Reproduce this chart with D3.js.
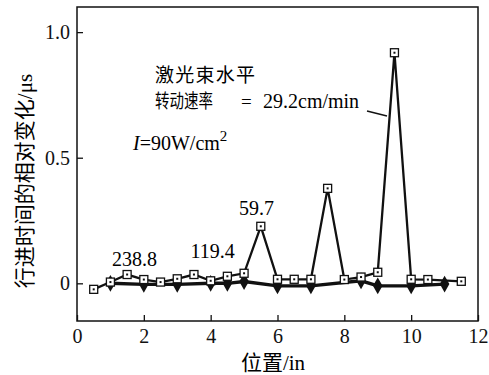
<!DOCTYPE html>
<html>
<head>
<meta charset="UTF-8">
<title>行进时间的相对变化</title>
<script src="https://d3js.org/d3.v7.min.js"></script>
<style>
  body { margin: 0; background: #fff; }
</style>
</head>
<body>
<svg id="chart" width="489" height="375"></svg>
<script>
// squares: open square markers with dot
var sqX = [0.5, 1, 1.5, 2, 2.5, 3, 3.5, 4, 4.5, 5, 5.5, 6, 6.5, 7, 7.5, 8, 8.5, 9, 9.5, 10, 10.5, 11.5];
var sqY = [-0.024, 0.005, 0.035, 0.015, 0.005, 0.018, 0.035, 0.01, 0.028, 0.04, 0.227, 0.016, 0.016, 0.016, 0.378, 0.015, 0.025, 0.044, 0.918, 0.016, 0.015, 0.008];
// diamonds: filled diamond markers
var diX = [1, 2, 3, 4, 4.5, 5, 6, 7, 8.5, 9, 10, 11];
var diY = [0, -0.004, -0.004, 0, 0, 0.007, -0.01, -0.01, 0.01, -0.01, -0.01, -0.003];
var xTicks = [0, 2, 4, 6, 8, 10, 12];
var yTicks = [0, 0.5, 1.0];
var yTickLabels = ["0", "0.5", "1.0"];
var speedLabels = ["238.8", "119.4", "59.7"];

var SERIF = "'Liberation Serif', serif";
var CJK = "'Noto Sans CJK SC', sans-serif";
var svg = d3.select("#chart");
var x = d3.scaleLinear().domain([0, 12]).range([77, 478]);
var y = d3.scaleLinear().domain([-0.15, 1.1]).range([321, 7]);

// frame
svg.append("rect")
    .attr("x", 77).attr("y", 7)
    .attr("width", 401).attr("height", 314)
    .attr("fill", "none").attr("stroke", "#111").attr("stroke-width", 1.5);

// axes, ticks pointing inward
var xAxis = svg.append("g")
    .attr("transform", "translate(0,321)")
    .call(d3.axisBottom(x).tickValues(xTicks).tickSize(-6).tickPadding(8).tickFormat(d3.format("d")));
var yAxis = svg.append("g")
    .attr("transform", "translate(77,0)")
    .call(d3.axisLeft(y).tickValues(yTicks).tickSize(-6).tickPadding(7)
        .tickFormat(function (d, i) { return yTickLabels[i]; }));
[xAxis, yAxis].forEach(function (a) {
    a.attr("font-family", null).attr("font-size", null);
    a.select(".domain").remove();
    a.selectAll(".tick line").attr("stroke", "#111").attr("stroke-width", 1.3);
    a.selectAll(".tick text").attr("fill", "#111")
        .style("font-family", SERIF).style("font-size", "20px");
});

// axis titles
var xt = svg.append("text")
    .attr("x", 273).attr("y", 370)
    .attr("text-anchor", "middle").style("font-size", "21px");
xt.append("tspan").style("font-family", CJK).text("位置");
xt.append("tspan").style("font-family", SERIF).text("/in");
var yt = svg.append("text")
    .attr("transform", "translate(32,181) rotate(-90)")
    .attr("text-anchor", "middle").style("font-size", "21px");
yt.append("tspan").style("font-family", CJK).text("行进时间的相对变化");
yt.append("tspan").style("font-family", SERIF).text("/μs");

var line = d3.line().x(function (d) { return x(d[0]); }).y(function (d) { return y(d[1]); });

// diamond series
var diData = diX.map(function (v, i) { return [v, diY[i]]; });
svg.append("path")
    .attr("d", line(diData))
    .attr("fill", "none").attr("stroke", "#111").attr("stroke-width", 3.4);
svg.selectAll(".dia").data(diData).enter().append("path")
    .attr("class", "dia")
    .attr("d", d3.symbol().type(d3.symbolDiamond).size(80))
    .attr("transform", function (d) { return "translate(" + x(d[0]) + "," + y(d[1]) + ")"; })
    .attr("fill", "#111");

// square series
var sqData = sqX.map(function (v, i) { return [v, sqY[i]]; });
svg.append("path")
    .attr("d", line(sqData))
    .attr("fill", "none").attr("stroke", "#111").attr("stroke-width", 2.3);
var sq = svg.selectAll(".sq").data(sqData).enter().append("g")
    .attr("class", "sq")
    .attr("transform", function (d) { return "translate(" + x(d[0]) + "," + y(d[1]) + ")"; });
sq.append("rect")
    .attr("x", -4).attr("y", -4).attr("width", 8).attr("height", 8)
    .attr("fill", "#fff").attr("stroke", "#111").attr("stroke-width", 1.3);
sq.append("rect")
    .attr("x", -1).attr("y", -1).attr("width", 2).attr("height", 2)
    .attr("fill", "#111");

// speed labels above the peaks
var labelPos = [[1.05, 0.07], [3.4, 0.1], [4.85, 0.27]];
svg.selectAll(".spd").data(speedLabels).enter().append("text")
    .attr("class", "spd")
    .attr("x", function (d, i) { return x(labelPos[i][0]); })
    .attr("y", function (d, i) { return y(labelPos[i][1]); })
    .style("font-family", SERIF).style("font-size", "20px")
    .text(function (d) { return d; });

// annotation
svg.append("text")
    .attr("x", 155).attr("y", 82)
    .style("font-family", CJK).style("font-size", "19px")
    .attr("textLength", 100)
    .text("激光束水平");
var t2 = svg.append("text").attr("y", 108).style("font-size", "19px");
t2.append("tspan").attr("x", 155).style("font-family", CJK)
    .attr("textLength", 58).attr("lengthAdjust", "spacingAndGlyphs").text("转动速率");
t2.append("tspan").attr("x", 241).style("font-family", SERIF).text("=");
t2.append("tspan").attr("x", 263).style("font-family", SERIF).style("font-size", "20px").text("29.2cm/min");
svg.append("line")
    .attr("x1", 367).attr("y1", 111).attr("x2", 387).attr("y2", 116)
    .attr("stroke", "#111").attr("stroke-width", 1.3);

var t3 = svg.append("text").attr("x", 133).attr("y", 150)
    .style("font-family", SERIF).style("font-size", "20px");
t3.append("tspan").style("font-style", "italic").text("I");
t3.append("tspan").text("=90W/cm");
t3.append("tspan").attr("dy", -9).style("font-size", "15px").text("2");
</script>
</body>
</html>
